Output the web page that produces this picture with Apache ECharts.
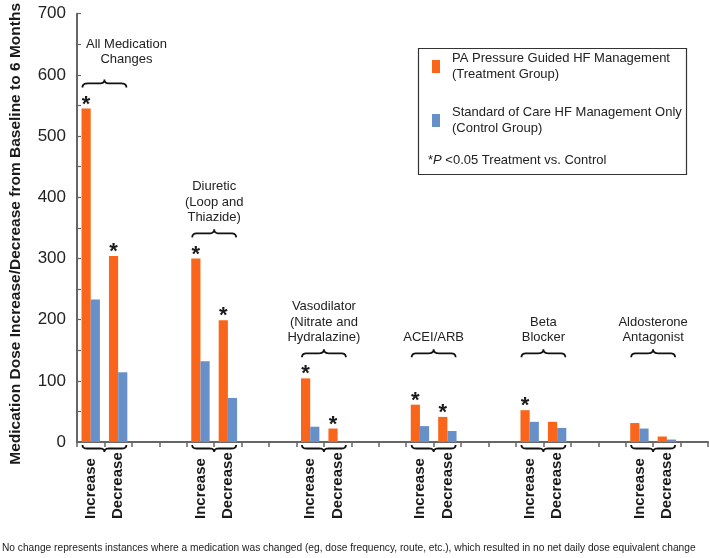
<!DOCTYPE html>
<html><head><meta charset="utf-8">
<script src="https://cdn.jsdelivr.net/npm/echarts@6/dist/echarts.min.js"></script>
<style>html,body{margin:0;padding:0;background:#fff}#c{width:709px;height:558px}</style>
</head><body><div id="c"></div>
<script>
// ---- data ----
const groupLabels = ['All Medication\nChanges', 'Diuretic\n(Loop and\nThiazide)', 'Vasodilator\n(Nitrate and\nHydralazine)', 'ACEI/ARB', 'Beta\nBlocker', 'Aldosterone\nAntagonist'];
const directions = ['Increase', 'Decrease'];
const seriesNames = ['PA Pressure Guided HF Management\n(Treatment Group)', 'Standard of Care HF Management Only\n(Control Group)'];
// values per group: [Increase, Decrease]
const treatment = [545, 304, 300, 199, 104, 22, 61, 41, 52, 33, 31, 9];
const control   = [233, 114, 132, 72, 25, 0, 26, 18, 33, 23, 22, 4];
const significant = [1, 1, 1, 1, 1, 1, 1, 1, 1, 0, 0, 0];
const yTicks = [0, 100, 200, 300, 400, 500, 600, 700];
const yAxisTitle = 'Medication Dose Increase/Decrease from Baseline to 6 Months';
const pNote = '*{i|P} <0.05 Treatment vs. Control';
const footNote = 'No change represents instances where a medication was changed (eg, dose frequency, route, etc.), which resulted in no net daily dose equivalent change';

// ---- styling ----
const FONT = '"Liberation Sans", Arial, Helvetica, sans-serif';
const ORANGE = '#F9651A', BLUE = '#6790C9', AXIS = '#666', INK = '#1a1a1a';

const xData = [], tData = [], cData = [];
groupLabels.forEach((g, gi) => {
  directions.forEach((d, di) => {
    const k = gi * 2 + di;
    xData.push(d);
    tData.push({ value: treatment[k], label: { show: !!significant[k] } });
    cData.push(control[k]);
  });
  // spacer categories between groups (one after the last group)
  const gaps = gi < groupLabels.length - 1 ? 2 : 1;
  for (let s = 0; s < gaps; s++) { xData.push(''); tData.push('-'); cData.push('-'); }
});

const chart = echarts.init(document.getElementById('c'), null, { renderer: 'canvas' });
chart.setOption({
  animation: false,
  textStyle: { fontFamily: FONT },
  grid: { left: 74, right: 1, top: 11, bottom: 116 },
  legend: {
    orient: 'vertical', left: 432, top: 42.5, padding: 0,
    itemWidth: 8, itemHeight: 13, itemGap: 6, icon: 'rect', selectedMode: false,
    textStyle: { fontSize: 13, color: '#222', lineHeight: 16, padding: [16, 0, 0, 7], fontFamily: FONT },
    data: seriesNames
  },
  xAxis: {
    type: 'category', data: xData,
    axisLine: { lineStyle: { color: AXIS, width: 2 } },
    axisTick: { show: true, interval: 0, length: 5, lineStyle: { color: AXIS, width: 1.5 } },
    axisLabel: { interval: 0, rotate: 90, align: 'left', margin: 77, fontSize: 15, fontWeight: 'bold', color: INK, fontFamily: FONT }
  },
  yAxis: {
    type: 'value', min: 0, max: 700, interval: 50,
    name: yAxisTitle, nameLocation: 'middle', nameGap: 53,
    nameTextStyle: { fontSize: 15.5, fontWeight: 'bold', color: INK, fontFamily: FONT, padding: [0, 12, 0, 0] },
    axisLine: { show: true, lineStyle: { color: AXIS, width: 2 } },
    axisTick: { show: true, inside: true, length: 4, lineStyle: { color: AXIS, width: 1.2 } },
    axisLabel: { fontSize: 17, color: '#222', margin: 11, fontFamily: FONT,
      formatter: v => yTicks.indexOf(v) >= 0 ? String(v) : '' },
    splitLine: { show: false }
  },
  series: [
    { name: seriesNames[0], type: 'bar', data: tData, barGap: '0%', barCategoryGap: '33%',
      itemStyle: { color: ORANGE },
      label: { show: false, position: 'top', formatter: '*', fontSize: 22, fontWeight: 'bold', color: INK, distance: 0, offset: [0, 7], fontFamily: FONT } },
    { name: seriesNames[1], type: 'bar', data: cData, itemStyle: { color: BLUE } }
  ]
});

// ---- braces, group labels, notes (positions from the chart's own scales) ----
function quad(p0, c, p1, out) {
  for (let s = 1; s <= 8; s++) {
    const t = s / 8, a = (1 - t) * (1 - t), b = 2 * (1 - t) * t, d = t * t;
    out.push([a * p0[0] + b * c[0] + d * p1[0], a * p0[1] + b * c[1] + d * p1[1]]);
  }
}
function brace(x1, x2, yTip, h, up) {
  const sgn = up ? 1 : -1;
  const yEnd = yTip + sgn * h, yMid = yTip + sgn * h / 2, q = h / 2 + 1, cx = (x1 + x2) / 2;
  const pts = [[x1, yEnd]];
  quad([x1, yEnd], [x1, yMid], [x1 + q, yMid], pts);
  pts.push([cx - q, yMid]);
  quad([cx - q, yMid], [cx, yMid], [cx, yTip], pts);
  quad([cx, yTip], [cx, yMid], [cx + q, yMid], pts);
  pts.push([x2 - q, yMid]);
  quad([x2 - q, yMid], [x2, yMid], [x2, yEnd], pts);
  return { type: 'polyline', shape: { points: pts }, style: { stroke: '#111', fill: null, lineWidth: 1.8 }, silent: true };
}
const measure = document.createElement('canvas').getContext('2d');
measure.font = '13px ' + FONT;

const px = (i, v) => chart.convertToPixel({ seriesIndex: 0 }, [i, v]);
const cw = px(1, 0)[0] - px(0, 0)[0];
const axisX = px(0, 0)[0] - cw / 2;
const axisY = px(0, 0)[1];
const gfx = [];
groupLabels.forEach((g, gi) => {
  const i0 = gi * 4;
  const cx = px(i0, 0)[0] + cw / 2;
  const x1 = cx - cw * 0.8, x2 = cx + cw * 0.8;
  gfx.push(brace(x1, x2, axisY + 10, 7, false));
  const gmax = Math.max(treatment[gi * 2], treatment[gi * 2 + 1], control[gi * 2], control[gi * 2 + 1]);
  const level = Math.max(gmax + 41, 145);
  const yl = px(i0, level)[1];
  gfx.push(brace(x1, x2, yl - 4, 8, true));
  const lines = g.split('\n');
  const w = Math.max(...lines.map(l => measure.measureText(l).width));
  let tx = cx, gap = 8;
  if (tx - w / 2 < axisX + 9) { tx = axisX + 9 + w / 2; gap = 16; }
  gfx.push({ type: 'text', silent: true, style: {
    text: g, x: tx, y: yl - gap, textAlign: 'center', textVerticalAlign: 'bottom',
    fill: '#222', font: '13px ' + FONT, lineHeight: 15.5 } });
});
gfx.push({ type: 'rect', silent: true, shape: { x: 418.5, y: 48.5, width: 268, height: 126 },
  style: { fill: null, stroke: '#333', lineWidth: 1.2 } });
gfx.push({ type: 'text', silent: true, style: {
  text: pNote, x: 428, y: 160, textAlign: 'left', textVerticalAlign: 'middle',
  fill: '#222', font: '13px ' + FONT,
  rich: { i: { fontStyle: 'italic', fontSize: 13, fontFamily: FONT, fill: '#222', textFill: '#222' } } } });
gfx.push({ type: 'text', silent: true, style: {
  text: footNote, x: 2, y: 548, textAlign: 'left', textVerticalAlign: 'middle',
  fill: '#222', font: '10.2px ' + FONT } });
chart.setOption({ graphic: gfx });
</script></body></html>
